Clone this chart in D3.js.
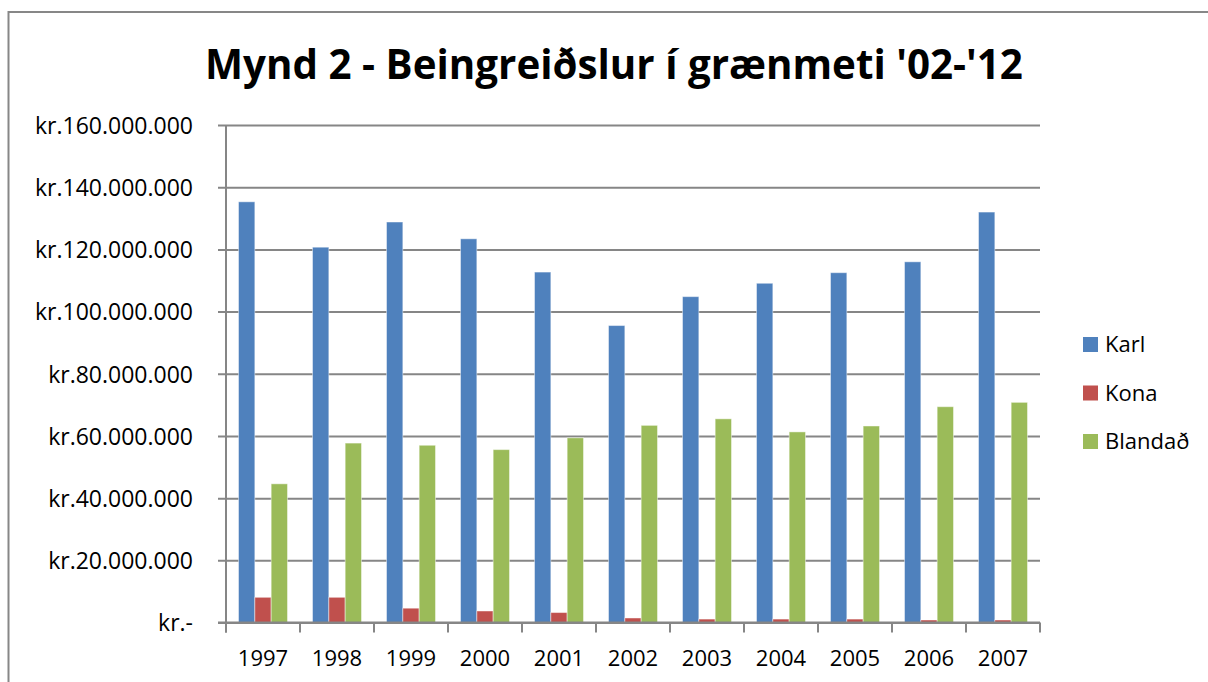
<!doctype html>
<html lang="is">
<head>
  <meta charset="utf-8">
  <title>Mynd 2 - Beingreiðslur í grænmeti</title>
  <style type="text/css">
    body{ margin:0; background:#fff; }
    text{ font-family:"Open Sans", "Noto Sans", sans-serif; fill:#000; }
    .grid line{ stroke:#868686; stroke-width:2; }
    .grid path{ display:none; }
  </style>
</head>
<body>
  <div id="vis"></div>
  <script src="https://cdn.jsdelivr.net/npm/d3@7/dist/d3.min.js"></script>
  <script type="text/javascript">

    var years = ['1997','1998','1999','2000','2001','2002','2003','2004','2005','2006','2007'];
    var series = ['Karl','Kona','Blandað'];
    var colors = ['#4F81BD','#C0504D','#9BBB59'];
    // values in kr.
    var karl    = [135300000,120700000,128800000,123400000,112700000,95500000,104800000,109100000,112500000,116000000,132000000];
    var kona    = [8100000,8100000,4600000,3700000,3200000,1450000,1100000,1100000,1100000,800000,800000];
    var blandad = [44600000,57700000,57000000,55600000,59400000,63400000,65500000,61300000,63200000,69400000,70800000];
    var yTicks  = [0,20000000,40000000,60000000,80000000,100000000,120000000,140000000,160000000];
    var title = "Mynd 2 - Beingreiðslur í grænmeti '02-'12";

    var values = [karl, kona, blandad];
    var width = 1208, height = 682;
    var pLeft = 226, pRight = 1040, pTop = 125, pBottom = 622.5;

    var vis = d3.select('#vis').append('svg').attr('width',width).attr('height',height);

    // outer frame (runs off the right and bottom edge)
    vis.append('rect')
      .attr('x',8.5).attr('y',12)
      .attr('width',width+20).attr('height',height+20)
      .style('fill','none').style('stroke','#878787').style('stroke-width',2);

    // title, fitted to width
    var t = vis.append('text')
      .attr('x',(205+1023)/2).attr('y',79)
      .attr('text-anchor','middle')
      .style('font-weight','bold')
      .style('font-size','40px')
      .text(title);
    var tw = t.node().getComputedTextLength();
    t.style('font-size', (40*818/tw)+'px');

    var x0 = d3.scaleBand().domain(years).range([pLeft,pRight]).padding(0);
    var bw = x0.bandwidth();
    var x1 = d3.scaleBand().domain(series).range([bw*0.169, bw*0.831]).padding(0);
    var y = d3.scaleLinear().domain([0,160000000]).range([pBottom,pTop]);

    var fmt = function(d){
      return d === 0 ? 'kr.-' : 'kr.' + d3.format(',')(d).replace(/,/g,'.');
    };

    // gridlines + y labels
    var yAxis = d3.axisLeft(y).tickValues(yTicks).tickFormat(fmt)
      .tickSizeInner(-(pRight-pLeft)).tickSizeOuter(0).tickPadding(33);
    var gy = vis.append('g').attr('class','grid')
      .attr('transform','translate('+pLeft+',0)')
      .call(yAxis);
    gy.selectAll('.tick line').attr('x1',-8);
    gy.selectAll('.tick text').style('font-size','23px').attr('dy','0.36em');

    // bars
    var groups = vis.selectAll('g.year').data(years).enter().append('g')
      .attr('class','year')
      .attr('transform',function(d){ return 'translate('+x0(d)+',0)'; });

    groups.selectAll('rect').data(function(d,i){
        return series.map(function(s,j){ return {s:s, j:j, v:values[j][i]}; });
      }).enter().append('rect')
      .attr('x',function(d){ return x1(d.s); })
      .attr('width',x1.bandwidth())
      .attr('y',function(d){ return y(d.v); })
      .attr('height',function(d){ return y(0)-y(d.v); })
      .style('fill',function(d){ return colors[d.j]; })
      .style('stroke','rgba(255,255,255,0.45)')
      .style('stroke-width',1);

    // axis lines
    vis.append('line')
      .attr('x1',pLeft).attr('x2',pLeft).attr('y1',pTop).attr('y2',pBottom+10)
      .style('stroke','#868686').style('stroke-width',2);

    var xAxis = d3.axisBottom(x0).tickSize(0).tickPadding(0);
    var gx = vis.append('g').attr('class','grid')
      .attr('transform','translate(0,'+pBottom+')')
      .call(xAxis);
    gx.selectAll('.tick text').style('font-size','22px').attr('y',43).attr('dy',0);
    gx.selectAll('.xtick').data(years.concat(['end'])).enter().append('line')
      .attr('x1',function(d,i){ return pLeft + i*bw; })
      .attr('x2',function(d,i){ return pLeft + i*bw; })
      .attr('y1',0).attr('y2',10);
    gx.append('line').attr('x1',pLeft-8).attr('x2',pRight).attr('y1',0).attr('y2',0);

    // legend
    var lg = vis.selectAll('g.legend').data(series).enter().append('g')
      .attr('class','legend')
      .attr('transform',function(d,i){ return 'translate(1083,'+(337+i*48.5)+')'; });
    lg.append('rect').attr('width',15).attr('height',15)
      .style('fill',function(d,i){ return colors[i]; });
    lg.append('text').attr('x',22).attr('y',15)
      .style('font-size','22px')
      .text(function(d){ return d; });

  </script>
</body>
</html>
